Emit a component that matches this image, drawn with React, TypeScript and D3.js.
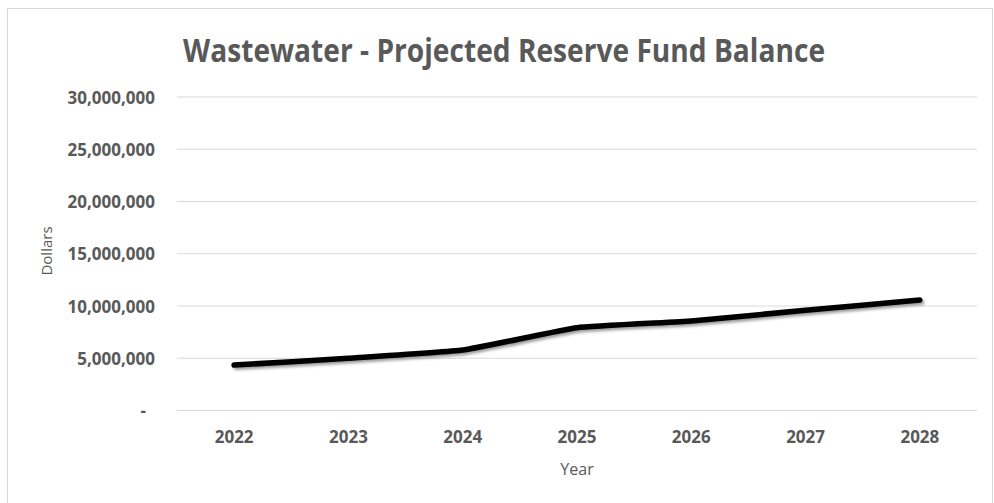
import * as d3 from "d3";
import { useEffect, useRef } from "react";

const years = ["2022", "2023", "2024", "2025", "2026", "2027", "2028"];
const balance = [4350000, 5000000, 5780000, 7920000, 8560000, 9600000, 10570000];
const yTicks = [0, 5000000, 10000000, 15000000, 20000000, 25000000, 30000000];

const W = 994;
const H = 503;
const textColour = "#595959";
const font = "'Open Sans', sans-serif";

const App = () => {
  const ref = useRef<SVGSVGElement>(null);

  useEffect(() => {
    const svg = d3.select(ref.current);
    svg.selectChildren().remove();

    const left = 177;
    const right = 977;
    const top = 97;
    const bottom = 410.5;

    const x = d3.scaleBand().domain(years).range([left, right]);
    const y = d3.scaleLinear().domain([0, 30000000]).range([bottom, top]);

    svg.append("rect")
      .attr("x", 7.5).attr("y", 8.5)
      .attr("width", 985).attr("height", 510)
      .attr("fill", "#fff")
      .attr("stroke", "#d9d9d9");

    svg.append("text")
      .attr("x", 504).attr("y", 62)
      .attr("text-anchor", "middle")
      .attr("font-family", font)
      .attr("font-size", 32)
      .attr("font-weight", 700)
      .attr("fill", textColour)
      .attr("textLength", 642)
      .attr("lengthAdjust", "spacingAndGlyphs")
      .text("Wastewater - Projected Reserve Fund Balance");

    // gridlines
    svg.append("g")
      .selectAll("line")
      .data(yTicks)
      .enter()
      .append("line")
      .attr("x1", left).attr("x2", right)
      .attr("y1", (d) => y(d)).attr("y2", (d) => y(d))
      .attr("stroke", "#d9d9d9")
      .attr("stroke-width", 1.2);

    const fmt = d3.format(",");
    svg.append("g")
      .selectAll("text")
      .data(yTicks)
      .enter()
      .append("text")
      .attr("x", 155)
      .attr("y", (d) => y(d) + 6.5)
      .attr("text-anchor", "end")
      .attr("font-family", font)
      .attr("font-size", 17)
      .attr("font-weight", 700)
      .attr("fill", textColour)
      .attr("dx", (d) => (d === 0 ? -9 : 0))
      .text((d) => (d === 0 ? "-" : fmt(d)));

    svg.append("g")
      .selectAll("text")
      .data(years)
      .enter()
      .append("text")
      .attr("x", (d) => (x(d) ?? 0) + x.bandwidth() / 2)
      .attr("y", 443)
      .attr("text-anchor", "middle")
      .attr("font-family", font)
      .attr("font-size", 17)
      .attr("font-weight", 700)
      .attr("fill", textColour)
      .text((d) => d);

    svg.append("text")
      .attr("x", 577).attr("y", 475)
      .attr("text-anchor", "middle")
      .attr("font-family", font)
      .attr("font-size", 16)
      .attr("fill", textColour)
      .text("Year");

    svg.append("text")
      .attr("transform", "translate(52, 251) rotate(-90)")
      .attr("text-anchor", "middle")
      .attr("font-family", font)
      .attr("font-size", 15)
      .attr("fill", textColour)
      .text("Dollars");

    const pts: [number, number][] = years.map((yr, i) => [
      (x(yr) ?? 0) + x.bandwidth() / 2,
      y(balance[i]),
    ]);
    const line = d3.line().curve(d3.curveCardinal.tension(0.65));

    const defs = svg.append("defs");
    defs.append("filter")
      .attr("id", "lineShadow")
      .attr("x", "-5%").attr("y", "-50%")
      .attr("width", "110%").attr("height", "200%")
      .append("feGaussianBlur")
      .attr("stdDeviation", 1.5);

    svg.append("path")
      .attr("d", line(pts))
      .attr("transform", "translate(2, 2.5)")
      .attr("fill", "none")
      .attr("stroke", "#9a9a9a")
      .attr("stroke-width", 5)
      .attr("stroke-linecap", "round")
      .attr("filter", "url(#lineShadow)");

    svg.append("path")
      .attr("d", line(pts))
      .attr("fill", "none")
      .attr("stroke", "#000")
      .attr("stroke-width", 5.5)
      .attr("stroke-linecap", "round")
      .attr("stroke-linejoin", "round");
  }, []);

  return (
    <svg
      ref={ref}
      width={W}
      height={H}
      style={{ position: "absolute", left: 0, top: 0, display: "block" }}
    />
  );
};

export default App;
